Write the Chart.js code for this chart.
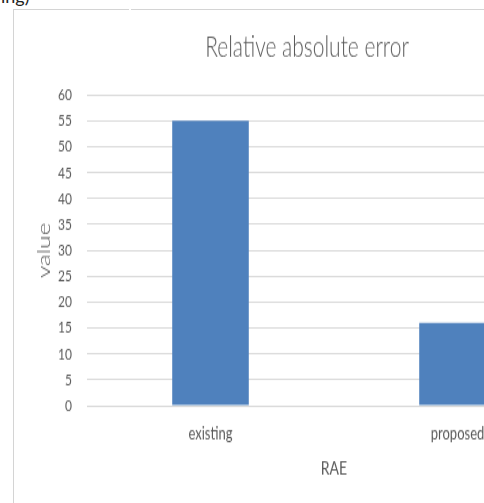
<!DOCTYPE html>
<html>
<head>
<meta charset="utf-8">
<title>Relative absolute error</title>
<script src="https://cdn.jsdelivr.net/npm/chart.js@4.4.0/dist/chart.umd.min.js"></script>
<style>
    html, body {
        margin: 0;
        padding: 0;
        width: 484px;
        height: 503px;
        overflow: hidden;
        background: #fff;
    }
    /* chart is laid out at 372px tall, then stretched to fill the page height */
    .chart-frame {
        position: absolute;
        left: 0;
        top: 0;
        width: 600px;
        height: 372px;
        transform: scaleY(1.3522);
        transform-origin: 0 0;
    }
    .line-top {
        position: absolute;
        top: 9px;
        height: 1px;
        background: #d4d4d4;
    }
    .line-left {
        position: absolute;
        left: 13px;
        top: 9px;
        width: 1px;
        height: 494px;
        background: #d4d4d4;
    }
    .prev-text {
        position: absolute;
        left: 1px;
        top: -15px;
        font-family: Lato, sans-serif;
        font-size: 18px;
        color: #222;
    }
</style>
</head>
<body>
<div class="prev-text">ing)</div>
<div class="line-top" style="left:13px;width:116px;"></div>
<div class="line-top" style="left:131px;width:353px;"></div>
<div class="line-left"></div>
<div class="chart-frame">
    <canvas id="raeChart"></canvas>
</div>

<script>
const categories = ['existing', 'proposed'];
const raeValues = [55, 16];
const yTicks = [0, 5, 10, 15, 20, 25, 30, 35, 40, 45, 50, 55, 60];

const textColor = '#595959';
const gridColor = '#d9d9d9';
const fontFamily = 'Lato, "Open Sans", sans-serif';

/**
 * Build the RAE bar chart
 */
function createRaeChart() {
    const ctx = document.getElementById('raeChart');
    if (!ctx) return;

    new Chart(ctx, {
        type: 'bar',
        data: {
            labels: categories,
            datasets: [{
                label: 'value',
                data: raeValues,
                backgroundColor: '#4f81bd',
                borderWidth: 0,
                categoryPercentage: 1,
                barPercentage: 0.31
            }]
        },
        options: {
            responsive: true,
            maintainAspectRatio: false,
            animation: false,
            layout: {
                padding: { left: 33, right: 19, top: 0, bottom: 17 }
            },
            plugins: {
                legend: { display: false },
                tooltip: { enabled: false },
                title: {
                    display: true,
                    text: 'Relative absolute error',
                    color: textColor,
                    font: { family: fontFamily, size: 21, weight: '300' },
                    padding: { top: 23, bottom: 22 }
                }
            },
            scales: {
                x: {
                    grid: { display: false, drawTicks: false },
                    border: { display: false },
                    ticks: {
                        color: textColor,
                        padding: 13,
                        font: { family: fontFamily, size: 13 }
                    },
                    title: {
                        display: true,
                        text: 'RAE',
                        color: textColor,
                        padding: 0,
                        font: { family: fontFamily, size: 14 }
                    },
                    afterFit: (scale) => { scale.height = 55; }
                },
                y: {
                    min: 0,
                    max: 60,
                    afterBuildTicks: (scale) => {
                        scale.ticks = yTicks.map(v => ({ value: v }));
                    },
                    grid: {
                        color: gridColor,
                        drawTicks: false
                    },
                    border: { display: false },
                    ticks: {
                        color: textColor,
                        padding: 15,
                        font: { family: fontFamily, size: 12 }
                    },
                    title: {
                        display: true,
                        text: 'value',
                        color: textColor,
                        padding: 0,
                        font: { family: fontFamily, size: 18, weight: '300' }
                    },
                    afterFit: (scale) => { scale.width = 54; }
                }
            }
        }
    });
}

createRaeChart();
</script>
</body>
</html>
